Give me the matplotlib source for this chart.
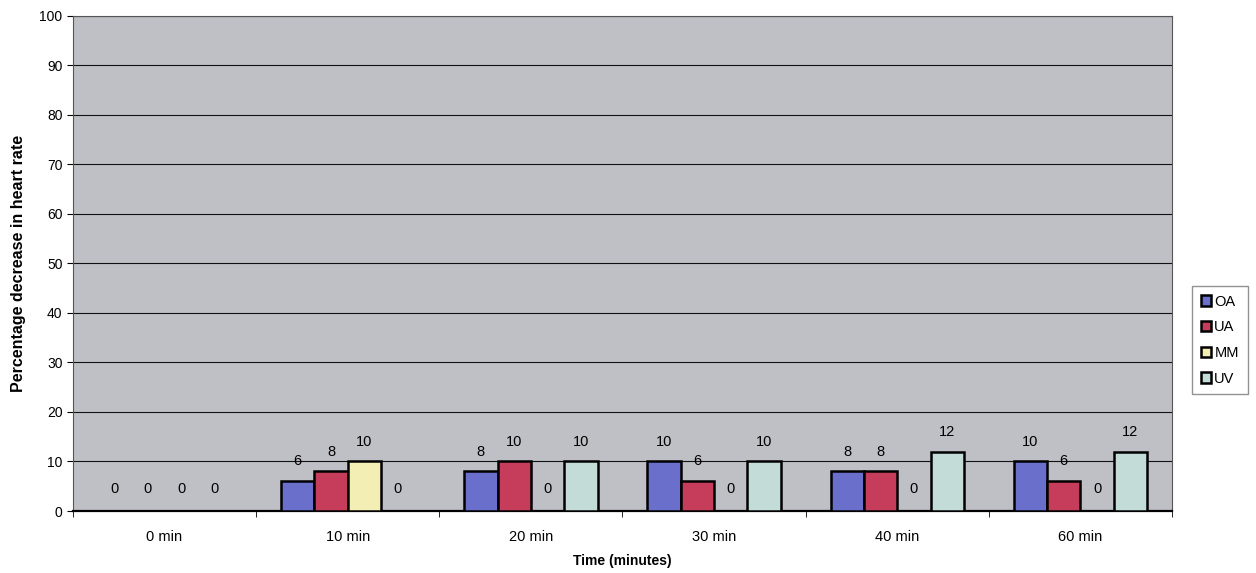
import matplotlib.pyplot as plt
import numpy as np

plt.rcParams['font.family'] = ['Liberation Sans', 'DejaVu Sans']

times = ['0 min', '10 min', '20 min', '30 min', '40 min', '60 min']
series = ['OA', 'UA', 'MM', 'UV']
oa = [0, 6, 8, 10, 8, 10]
ua = [0, 8, 10, 6, 8, 6]
mm = [0, 10, 0, 0, 0, 0]
uv = [0, 0, 10, 10, 12, 12]
colors = ['#6b6fcc', '#c63d5c', '#f3efb4', '#c3dcd8']

fig = plt.figure(figsize=(12.56, 5.73), dpi=100)
ax = fig.add_axes([0.0581, 0.1082, 0.875, 0.864])
ax.set_facecolor('#bfc0c6')

x = np.arange(len(times))
w = 0.182
for i, vals in enumerate([oa, ua, mm, uv]):
    pos = x + (i - 1.5) * w
    ax.bar(pos, vals, width=w, color=colors[i], edgecolor='black', linewidth=1.8,
           label=series[i], zorder=3)
    for p, v in zip(pos, vals):
        if v == 0:
            ax.text(p, 4.4, '0', ha='center', va='center', fontsize=10.5, zorder=4)
        else:
            ax.text(p, v + 2.6, str(v), ha='center', va='bottom', fontsize=10.5, zorder=4)

ax.set_ylim(0, 100)
ax.set_xlim(-0.5, len(times) - 0.5)
ax.set_yticks(range(0, 101, 10))
ax.yaxis.grid(True, color='#111111', linewidth=0.8, zorder=1)
ax.set_xticks(x)
ax.set_xticklabels(times, fontsize=10.5)
ax.set_xticks(np.arange(-0.5, len(times), 1), minor=True)
ax.tick_params(axis='x', which='major', length=0, pad=14)
ax.tick_params(axis='x', which='minor', length=4)
ax.tick_params(axis='y', labelsize=10, length=4)
for s in ax.spines.values():
    s.set_color('#555555')
ax.spines['bottom'].set_color('black')
ax.spines['bottom'].set_linewidth(1.6)

ax.set_xlabel('Time (minutes)', fontsize=10, fontweight='bold', labelpad=7)
ax.set_ylabel('Percentage decrease in heart rate', fontsize=11.5, fontweight='bold', labelpad=10)

leg = ax.legend(loc='center left', bbox_to_anchor=(1.018, 0.345), fontsize=10.5,
                frameon=True, fancybox=False, edgecolor='#777777',
                handlelength=0.7, handleheight=0.7, handletextpad=0.25,
                labelspacing=0.8, borderpad=0.6, borderaxespad=0)
leg.get_frame().set_linewidth(1.0)

fig.savefig('out.png', dpi=100)
